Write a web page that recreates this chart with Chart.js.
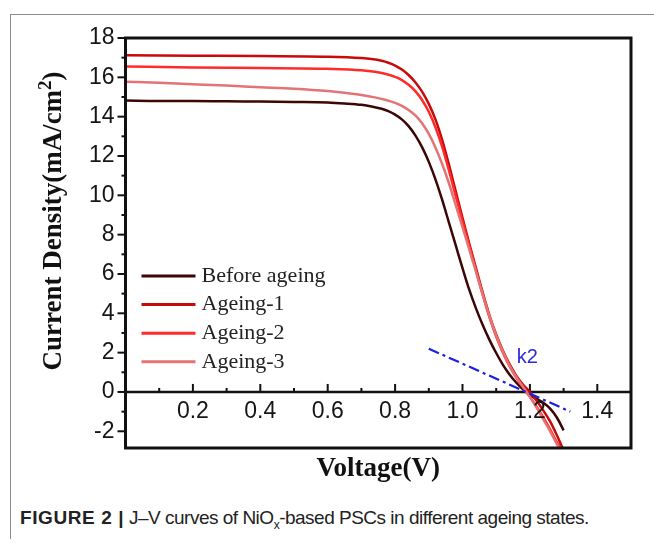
<!DOCTYPE html>
<html><head><meta charset="utf-8">
<script src="https://cdn.jsdelivr.net/npm/chart.js@4.4.1/dist/chart.umd.min.js"></script>
<style>
html,body{margin:0;padding:0;background:#fff;}
#wrap{position:relative;width:654px;height:546px;overflow:hidden;background:#fff;}
#frame{position:absolute;left:10px;top:14px;width:660px;height:524px;border-top:1.5px solid #8c8c8c;border-left:1.5px solid #8c8c8c;}
#c{position:absolute;left:0;top:0;}
#cap{position:absolute;left:20px;top:507px;font-family:"Liberation Sans",Arial,sans-serif;font-size:19px;color:#222;white-space:nowrap;letter-spacing:-0.5px;}
#cap b{font-weight:bold;letter-spacing:0.6px;}
</style></head>
<body>
<div id="wrap">
<div id="frame"></div>
<canvas id="c" width="654" height="500" style="width:654px;height:500px"></canvas>
<div id="cap"><b>FIGURE 2 |</b> J–V curves of NiO<sub style="font-size:12px">x</sub>-based PSCs in different ageing states.</div>
</div>
<script>
// ---- data (Voltage in V, Current density in mA/cm2) ----
const seriesNames = ['Before ageing', 'Ageing-1', 'Ageing-2', 'Ageing-3'];

const beforeV = [0, 0.1, 0.2, 0.3, 0.4, 0.5, 0.6, 0.65, 0.7, 0.73, 0.76, 0.78, 0.8, 0.82, 0.84, 0.86, 0.88, 0.9, 0.92, 0.94, 0.96, 0.98, 1.0, 1.02, 1.04, 1.06, 1.08, 1.1, 1.12, 1.14, 1.16, 1.18, 1.2, 1.22, 1.24, 1.26, 1.28, 1.3];
const beforeJ = [14.82, 14.8, 14.8, 14.78, 14.77, 14.75, 14.72, 14.67, 14.6, 14.52, 14.4, 14.28, 14.1, 13.86, 13.52, 13.05, 12.45, 11.7, 10.8, 9.75, 8.6, 7.45, 6.3, 5.2, 4.25, 3.4, 2.65, 1.98, 1.38, 0.88, 0.47, 0.12, -0.15, -0.35, -0.55, -0.85, -1.3, -1.95];

const ageing1V = [0, 0.2, 0.4, 0.6, 0.7, 0.73, 0.76, 0.78, 0.8, 0.82, 0.84, 0.86, 0.88, 0.9, 0.92, 0.94, 0.96, 0.98, 1.0, 1.02, 1.04, 1.06, 1.08, 1.1, 1.12, 1.14, 1.16, 1.18, 1.2, 1.22, 1.24, 1.26, 1.28, 1.297];
const ageing1J = [17.12, 17.1, 17.08, 17.05, 16.98, 16.93, 16.84, 16.74, 16.6, 16.4, 16.12, 15.75, 15.27, 14.65, 13.85, 12.8, 11.55, 10.2, 8.85, 7.55, 6.3, 5.05, 3.9, 2.92, 2.1, 1.4, 0.82, 0.37, 0.0, -0.45, -0.95, -1.5, -2.2, -2.85];

const ageing2V = [0, 0.2, 0.4, 0.6, 0.7, 0.74, 0.77, 0.8, 0.82, 0.84, 0.86, 0.88, 0.9, 0.92, 0.94, 0.96, 0.98, 1.0, 1.02, 1.04, 1.06, 1.08, 1.1, 1.12, 1.14, 1.16, 1.18, 1.2, 1.22, 1.24, 1.26, 1.28, 1.292];
const ageing2J = [16.55, 16.5, 16.47, 16.43, 16.36, 16.28, 16.18, 16.02, 15.86, 15.62, 15.3, 14.85, 14.25, 13.45, 12.45, 11.25, 9.95, 8.68, 7.45, 6.2, 4.95, 3.8, 2.82, 2.0, 1.3, 0.72, 0.22, -0.25, -0.75, -1.3, -1.9, -2.55, -2.85];

const ageing3V = [0, 0.1, 0.2, 0.3, 0.4, 0.5, 0.6, 0.65, 0.7, 0.74, 0.77, 0.8, 0.82, 0.84, 0.86, 0.88, 0.9, 0.92, 0.94, 0.96, 0.98, 1.0, 1.02, 1.04, 1.06, 1.08, 1.1, 1.12, 1.14, 1.16, 1.18, 1.2, 1.22, 1.24, 1.26, 1.28, 1.287];
const ageing3J = [15.78, 15.72, 15.65, 15.58, 15.5, 15.42, 15.3, 15.21, 15.1, 14.98, 14.86, 14.7, 14.55, 14.34, 14.06, 13.66, 13.12, 12.42, 11.58, 10.6, 9.5, 8.38, 7.25, 6.1, 4.95, 3.85, 2.88, 2.05, 1.33, 0.75, 0.25, -0.25, -0.8, -1.4, -2.0, -2.65, -2.85];

const k2V = [0.9, 1.32];
const k2J = [2.2, -1.0];
const k2Label = 'k2';
const k2LabelAt = [1.192, 1.75];

const xTickValues = [0.2, 0.4, 0.6, 0.8, 1.0, 1.2, 1.4];
const xTickLabels = ['0.2', '0.4', '0.6', '0.8', '1.0', '1.2', '1.4'];
const yTickValues = [-2, 0, 2, 4, 6, 8, 10, 12, 14, 16, 18];
const yTickLabels = ['-2', '0', '2', '4', '6', '8', '10', '12', '14', '16', '18'];
const xTitle = 'Voltage(V)';
const yTitleMain = 'Current Density(mA/cm';
const yTitleSup = '2';
const yTitleEnd = ')';

const colors = ['#3d0606', '#c80a0a', '#ff2a2a', '#e57373'];
const pairs = (vs, js) => vs.map((v, i) => ({x: v, y: js[i]}));
const seriesData = [pairs(beforeV, beforeJ), pairs(ageing1V, ageing1J), pairs(ageing2V, ageing2J), pairs(ageing3V, ageing3J)];

const SERIF = '"Liberation Serif","Times New Roman",serif';
const SANS = '"Liberation Sans",Arial,sans-serif';

const decor = {
  id: 'decor',
  beforeDatasetsDraw(chart) {
    const {ctx, chartArea: a, scales: {x, y}} = chart;
    ctx.save();
    ctx.strokeStyle = '#111';
    const y0 = y.getPixelForValue(0);
    ctx.lineWidth = 2.5;
    ctx.beginPath(); ctx.moveTo(a.left, y0); ctx.lineTo(a.right, y0); ctx.stroke();
    ctx.lineWidth = 2;
    for (let k = 1; k <= 14; k++) {
      const px = x.getPixelForValue(k / 10);
      const len = (k % 2 === 0) ? 8 : 4;
      ctx.beginPath(); ctx.moveTo(px, y0); ctx.lineTo(px, y0 - len); ctx.stroke();
    }
    for (let v = -2; v <= 18; v++) {
      const py = y.getPixelForValue(v);
      const len = (v % 2 === 0) ? 8 : 4;
      ctx.beginPath(); ctx.moveTo(a.left, py); ctx.lineTo(a.left - len, py); ctx.stroke();
    }
    ctx.restore();
  },
  afterDatasetsDraw(chart) {
    const {ctx, chartArea: a, scales: {x, y}} = chart;
    ctx.save();
    ctx.strokeStyle = '#111';
    ctx.lineWidth = 3;
    ctx.strokeRect(a.left, a.top, a.right - a.left, a.bottom - a.top);
    const y0 = y.getPixelForValue(0);
    ctx.fillStyle = '#151515';
    ctx.font = '23px ' + SANS;
    ctx.textAlign = 'center';
    ctx.textBaseline = 'middle';
    xTickValues.forEach((v, i) => ctx.fillText(xTickLabels[i], x.getPixelForValue(v), y0 + 20));
    ctx.fillStyle = '#2b2bd6';
    ctx.font = '20px ' + SANS;
    ctx.fillText(k2Label, x.getPixelForValue(k2LabelAt[0]), y.getPixelForValue(k2LabelAt[1]));
    ctx.font = '22px ' + SERIF;
    ctx.textAlign = 'left';
    seriesNames.forEach((n, i) => {
      const ry = a.top + 238 + i * 28.6;
      ctx.strokeStyle = colors[i];
      ctx.lineWidth = 3;
      ctx.beginPath(); ctx.moveTo(a.left + 16, ry); ctx.lineTo(a.left + 70, ry); ctx.stroke();
      ctx.fillStyle = '#222';
      ctx.fillText(n, a.left + 76, ry);
    });
    ctx.fillStyle = '#111';
    ctx.font = 'bold 27px ' + SERIF;
    ctx.textAlign = 'center';
    ctx.fillText(xTitle, (a.left + a.right) / 2, 469);
    ctx.translate(54, 221);
    ctx.rotate(-Math.PI / 2);
    ctx.textAlign = 'left';
    ctx.font = 'bold 27px ' + SERIF;
    const w1 = ctx.measureText(yTitleMain).width;
    const w3 = ctx.measureText(yTitleEnd).width;
    ctx.font = 'bold 19px ' + SERIF;
    const w2 = ctx.measureText(yTitleSup).width;
    const total = w1 + w2 + w3;
    let cx = -total / 2;
    ctx.font = 'bold 27px ' + SERIF;
    ctx.fillText(yTitleMain, cx, 0); cx += w1;
    ctx.font = 'bold 19px ' + SERIF;
    ctx.fillText(yTitleSup, cx, -8); cx += w2;
    ctx.font = 'bold 27px ' + SERIF;
    ctx.fillText(yTitleEnd, cx, 0);
    ctx.restore();
  }
};

const datasets = seriesNames.map((n, i) => ({
  label: n,
  data: seriesData[i],
  borderColor: colors[i],
  backgroundColor: colors[i],
  borderWidth: 2.5,
  pointRadius: 0,
  showLine: true,
  tension: 0.4,
  cubicInterpolationMode: 'monotone',
  fill: false,
  order: 4 - i
}));
datasets.push({
  label: 'k2',
  data: pairs(k2V, k2J),
  borderColor: '#1f1fe0',
  borderWidth: 2.2,
  borderDash: [11, 4, 3, 4],
  pointRadius: 0,
  showLine: true,
  fill: false,
  order: 0
});

new Chart(document.getElementById('c'), {
  type: 'scatter',
  data: {datasets},
  options: {
    responsive: false,
    animation: false,
    devicePixelRatio: 1,
    layout: {padding: {left: 0, right: 23, top: 38, bottom: 52}},
    plugins: {legend: {display: false}, tooltip: {enabled: false}},
    scales: {
      x: {type: 'linear', min: 0, max: 1.5, display: false},
      y: {
        type: 'linear', min: -2.85, max: 18,
        grid: {display: false, drawTicks: false},
        border: {display: false},
        afterBuildTicks: s => { s.ticks = yTickValues.map(v => ({value: v})); },
        afterFit: s => { s.width = 125.5; },
        ticks: {
          font: {family: SANS, size: 23},
          color: '#151515',
          padding: 11,
          callback: (v) => { const i = yTickValues.indexOf(v); return i >= 0 ? yTickLabels[i] : ''; }
        }
      }
    }
  },
  plugins: [decor]
});
</script>
</body></html>
